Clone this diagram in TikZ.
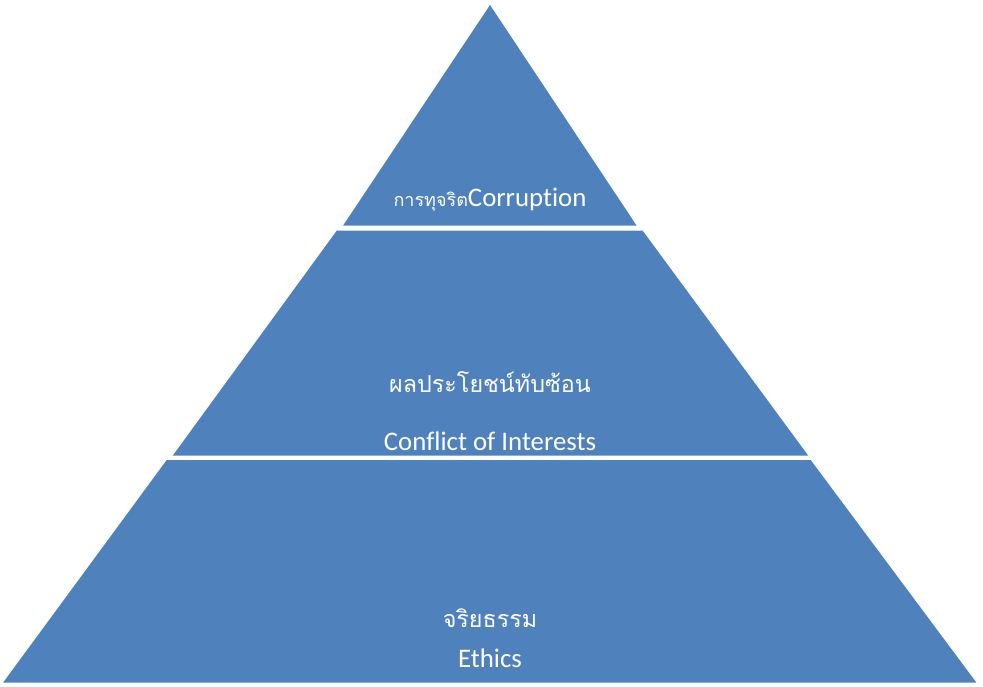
\documentclass[tikz,border=0pt]{standalone}
\usepackage{fontspec}
\setmainfont[Ligatures=NoCommon]{Carlito}
\newfontfamily\thaifont[Script=Thai]{Loma}
\definecolor{pyrblue}{HTML}{4F81BD}
\tikzset{
  band/.style={fill=pyrblue, draw=none},
  lbl/.style={text=white, inner sep=0pt, anchor=center, font=\fontsize{26.8}{30}\selectfont},
  thlbl/.style={text=white, inner sep=0pt, anchor=center, font=\thaifont\fontsize{23.3}{28}\selectfont}
}
\begin{document}
\begin{tikzpicture}[x=1pt,y=-1pt]
\useasboundingbox (0,0) rectangle (983,686);
% bands
\fill[band] (490,5) -- (636.7,225.7) -- (343,225.7) -- cycle;
\fill[band] (336.7,230.7) -- (642.7,230.7) -- (808.3,455.7) -- (172.7,455.7) -- cycle;
\fill[band] (166.7,460) -- (810.7,460) -- (976.5,682.7) -- (3,682.7) -- cycle;
% labels
\node[lbl] (top) at (490,200) {{\thaifont\fontsize{18}{22}\selectfont การทุจริต}Corruption};
\node[thlbl] (midth) at (490,382) {ผลประโยชน์ทับซ้อน};
\node[lbl] (miden) at (490,441) {Conflict of Interests};
\node[thlbl] (botth) at (490,618) {จริยธรรม};
\node[lbl] (boten) at (490,658) {Ethics};
\end{tikzpicture}
\end{document}
